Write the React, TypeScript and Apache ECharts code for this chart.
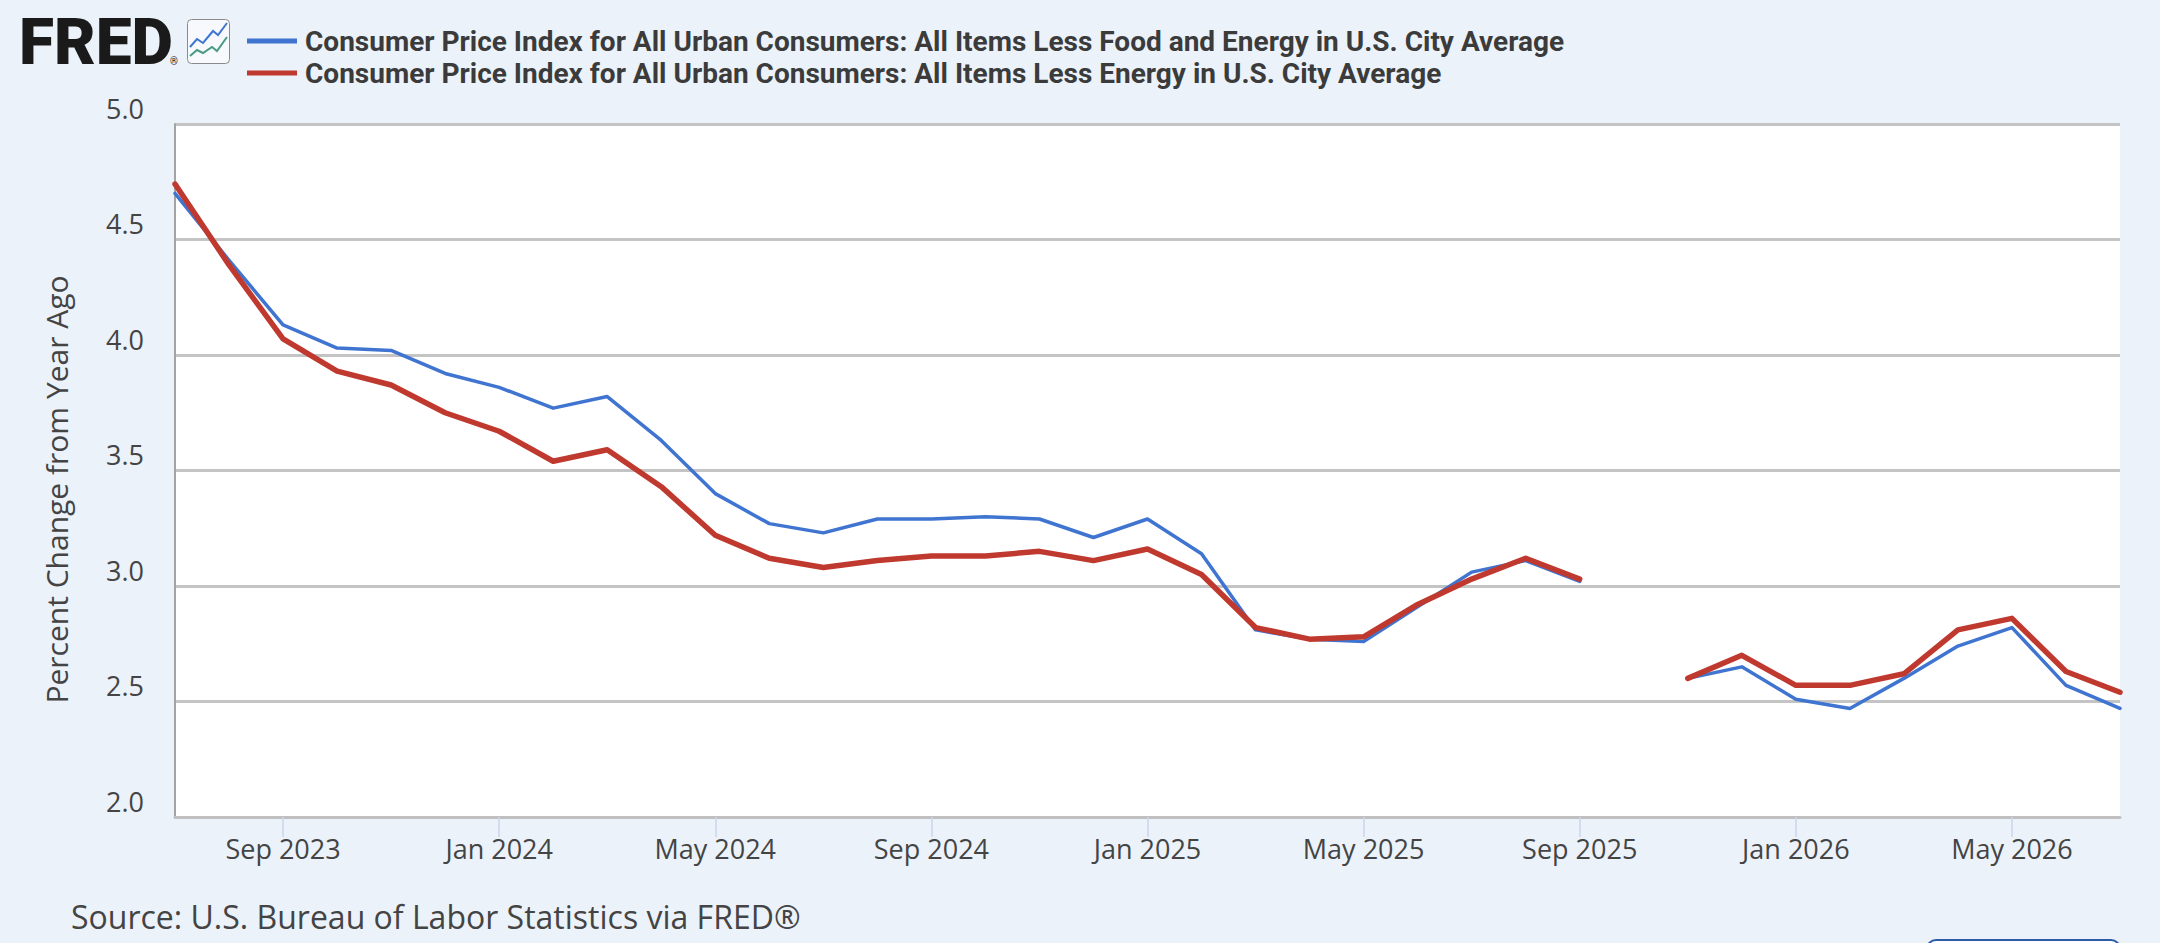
import React, { useEffect, useRef } from 'react';
import * as echarts from 'echarts';

const months = [
  'Jul 2023', 'Aug 2023', 'Sep 2023', 'Oct 2023', 'Nov 2023', 'Dec 2023',
  'Jan 2024', 'Feb 2024', 'Mar 2024', 'Apr 2024', 'May 2024', 'Jun 2024',
  'Jul 2024', 'Aug 2024', 'Sep 2024', 'Oct 2024', 'Nov 2024', 'Dec 2024',
  'Jan 2025', 'Feb 2025', 'Mar 2025', 'Apr 2025', 'May 2025', 'Jun 2025',
  'Jul 2025', 'Aug 2025', 'Sep 2025', 'Oct 2025', 'Nov 2025', 'Dec 2025',
  'Jan 2026', 'Feb 2026', 'Mar 2026', 'Apr 2026', 'May 2026', 'Jun 2026',
  'Jul 2026',
];

const lessFoodEnergy = [
  4.70, 4.41, 4.13, 4.03, 4.02, 3.92,
  3.86, 3.77, 3.82, 3.63, 3.40, 3.27,
  3.23, 3.29, 3.29, 3.30, 3.29, 3.21,
  3.29, 3.14, 2.81, 2.77, 2.76, 2.91,
  3.06, 3.11, 3.02, null, 2.60, 2.65,
  2.51, 2.47, 2.60, 2.74, 2.82, 2.57,
  2.47,
];

const lessEnergy = [
  4.74, 4.39, 4.07, 3.93, 3.87, 3.75,
  3.67, 3.54, 3.59, 3.43, 3.22, 3.12,
  3.08, 3.11, 3.13, 3.13, 3.15, 3.11,
  3.16, 3.05, 2.82, 2.77, 2.78, 2.92,
  3.03, 3.12, 3.03, null, 2.60, 2.70,
  2.57, 2.57, 2.62, 2.81, 2.86, 2.63,
  2.54,
];

const seriesNames = [
  'Consumer Price Index for All Urban Consumers: All Items Less Food and Energy in U.S. City Average',
  'Consumer Price Index for All Urban Consumers: All Items Less Energy in U.S. City Average',
];

const tickMonths = ['Sep', 'Jan', 'May'];
const yMin = 2;
const yMax = 5;
const yStep = 0.5;
const yTitle = 'Percent Change from Year Ago';
const sourceText = 'Source: U.S. Bureau of Labor Statistics via FRED®';

const BG = '#ebf2fa';
const BLUE = '#3f74d0';
const RED = '#c0392f';
const LABEL_FONT = '"Open Sans", "Noto Sans", sans-serif';

const isTick = (_i: number, v: string) => tickMonths.includes(String(v).slice(0, 3));

export default function App() {
  const ref = useRef<HTMLDivElement>(null);

  useEffect(() => {
    document.body.style.margin = '0';
    document.body.style.background = BG;
    const chart = echarts.init(ref.current!, null, { renderer: 'svg' });
    chart.setOption({
      animation: false,
      backgroundColor: BG,
      grid: {
        left: 175,
        right: 40,
        top: 124,
        bottom: 126,
        show: true,
        backgroundColor: '#ffffff',
        borderWidth: 0,
      },
      legend: {
        orient: 'vertical',
        left: 242,
        top: 21,
        itemWidth: 50,
        itemHeight: 5,
        itemGap: 2,
        icon: 'rect',
        selectedMode: false,
        data: seriesNames,
        textStyle: {
          fontFamily: 'Roboto, sans-serif',
          fontWeight: 'bold',
          fontSize: 28,
          color: '#3b3b3b',
          lineHeight: 30,
          padding: [0, 0, 0, 3],
        },
      },
      xAxis: {
        type: 'category',
        data: months,
        boundaryGap: false,
        axisLine: { show: true, lineStyle: { color: '#c0c0c0', width: 3 } },
        axisTick: {
          show: true,
          interval: isTick,
          length: 20,
          lineStyle: { color: '#ccd6eb', width: 1.5 },
        },
        axisLabel: {
          interval: isTick,
          margin: 18,
          fontFamily: LABEL_FONT,
          fontSize: 27,
          color: '#444444',
        },
        splitLine: { show: false },
      },
      yAxis: {
        type: 'value',
        min: yMin,
        max: yMax,
        interval: yStep,
        name: yTitle,
        nameLocation: 'middle',
        nameRotate: 90,
        nameGap: 104,
        nameTextStyle: {
          fontFamily: LABEL_FONT,
          fontSize: 30,
          color: '#444444',
          padding: [0, 38, 0, 0],
        },
        axisLine: { show: true, lineStyle: { color: '#a3a3a3', width: 2 } },
        axisTick: { show: false },
        axisLabel: {
          margin: 31,
          fontFamily: LABEL_FONT,
          fontSize: 27,
          color: '#444444',
          verticalAlign: 'bottom',
          lineHeight: 32,
          formatter: (v: number) => v.toFixed(1),
        },
        splitLine: { show: true, lineStyle: { color: '#c4c4c4', width: 3 } },
      },
      series: [
        {
          name: seriesNames[0],
          type: 'line',
          data: lessFoodEnergy,
          color: BLUE,
          showSymbol: false,
          connectNulls: false,
          lineStyle: { color: BLUE, width: 3.5, join: 'round', cap: 'round' },
          z: 3,
        },
        {
          name: seriesNames[1],
          type: 'line',
          data: lessEnergy,
          color: RED,
          showSymbol: false,
          connectNulls: false,
          lineStyle: { color: RED, width: 5.5, join: 'round', cap: 'round' },
          z: 4,
        },
      ],
      graphic: [
        {
          type: 'text',
          x: 19,
          y: 42,
          style: {
            text: 'FRED',
            font: '900 64px Roboto, sans-serif',
            fill: '#1a1a1a',
            verticalAlign: 'middle',
          },
        },
        {
          type: 'text',
          x: 170,
          y: 61,
          style: {
            text: '®',
            font: '10px Roboto, sans-serif',
            fill: '#1a1a1a',
            verticalAlign: 'middle',
          },
        },
        {
          type: 'rect',
          shape: { x: 187.5, y: 19.5, width: 42, height: 44, r: 4 },
          style: { fill: '#f7f9fc', stroke: '#8a8a8a', lineWidth: 1 },
        },
        {
          type: 'polyline',
          shape: { points: [[190, 47], [197, 39], [203, 43], [213, 31], [218, 35], [227, 23]] },
          style: { stroke: '#3f74d0', lineWidth: 2, fill: 'none' },
        },
        {
          type: 'polyline',
          shape: { points: [[190, 56], [197, 50], [203, 53], [212, 47], [217, 51], [227, 37]] },
          style: { stroke: '#4a9a86', lineWidth: 2, fill: 'none' },
        },
        {
          type: 'text',
          x: 71,
          y: 916,
          style: {
            text: sourceText,
            font: '32px "Open Sans", "Noto Sans", sans-serif',
            fill: '#444444',
            verticalAlign: 'middle',
          },
        },
        {
          type: 'rect',
          shape: { x: 1927, y: 940, width: 193, height: 40, r: 9 },
          style: { fill: '#ffffff', stroke: '#2c5ea8', lineWidth: 2 },
        },
      ],
    });
    return () => chart.dispose();
  }, []);

  return (
    <div
      ref={ref}
      style={{ position: 'absolute', left: 0, top: 0, width: 2160, height: 943 }}
    />
  );
}
